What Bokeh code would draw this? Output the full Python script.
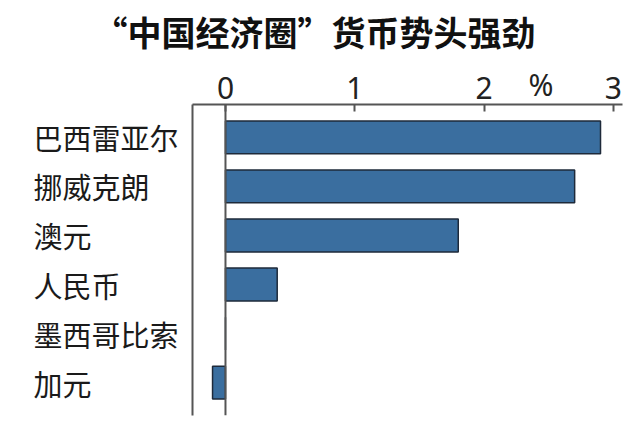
from bokeh.plotting import figure
from bokeh.models import Range1d, LinearAxis, ColumnDataSource, FixedTicker, Span
from bokeh.embed import file_html
from bokeh.resources import INLINE

currencies = ["巴西雷亚尔", "挪威克朗", "澳元", "人民币", "墨西哥比索", "加元"]
changes = [2.90, 2.70, 1.80, 0.40, 0.0, -0.10]
x_ticks = [0, 1, 2, 3]
unit_label = "%"
unit_pos = 2.44
title_text = "“中国经济圈”货币势头强劲"

n = len(currencies)
rows = list(range(n))
src = ColumnDataSource(dict(row=rows, cur=currencies, val=changes))

# left-aligned look for the category labels: pad with ideographic spaces
max_len = max(len(c) for c in currencies)
row_labels = {i: c + "\u3000" * (max_len - len(c)) for i, c in zip(rows, currencies)}

pad = 0.67
p = figure(width=632, height=422, output_backend="svg", toolbar_location=None,
           y_range=Range1d(n - 1 + pad, -pad),
           x_range=Range1d(-0.255, 3.07), x_axis_location="above",
           min_border_left=192, min_border_right=10, min_border_top=104,
           min_border_bottom=7)

p.outline_line_color = None
p.xgrid.grid_line_color = None
p.ygrid.grid_line_color = None
p.background_fill_color = "white"
p.border_fill_color = "white"

p.hbar(y="row", left=0, right="val", height=0.67, source=src,
       fill_color="#3a6e9f", line_color="#1e2a3a", line_width=1.5)

p.add_layout(Span(location=0, dimension="height", line_color="#555555", line_width=2))

xa = p.xaxis[0]
xa.ticker = FixedTicker(ticks=x_ticks)
xa.axis_line_color = "#555555"
xa.axis_line_width = 2
xa.major_tick_in = 7
xa.major_tick_out = 0
xa.major_tick_line_color = "#555555"
xa.major_tick_line_width = 2
xa.minor_tick_line_color = None
xa.major_label_text_font = "Noto Sans"
xa.major_label_text_font_size = "30px"
xa.major_label_text_color = "#222222"
xa.major_label_standoff = 6

# unit label "%" sitting on the same row as the tick labels
ua = LinearAxis(ticker=FixedTicker(ticks=[unit_pos]),
                major_label_overrides={unit_pos: unit_label})
ua.axis_line_color = None
ua.major_tick_line_color = None
ua.minor_tick_line_color = None
ua.major_tick_in = 0
ua.major_tick_out = 0
ua.major_label_text_font = "Noto Sans"
ua.major_label_text_font_size = "30px"
ua.major_label_text_color = "#222222"
ua.major_label_standoff = -31
p.add_layout(ua, "above")

ya = p.yaxis[0]
ya.ticker = FixedTicker(ticks=rows)
ya.major_label_overrides = row_labels
ya.axis_line_color = "#555555"
ya.axis_line_width = 2
ya.major_tick_line_color = None
ya.minor_tick_line_color = None
ya.major_tick_in = 0
ya.major_tick_out = 0
ya.major_label_standoff = 14
ya.major_label_text_font = "Noto Sans CJK SC"
ya.major_label_text_font_size = "29px"
ya.major_label_text_color = "#1a1a1a"

p.title.text = title_text
p.title.text_font = "Noto Sans CJK SC"
p.title.text_font_size = "34px"
p.title.text_font_style = "bold"
p.title.text_color = "#111111"
p.title.align = "left"
p.title.offset = -99
p.title.standoff = 9

open("out.html", "w").write(file_html(p, INLINE))
